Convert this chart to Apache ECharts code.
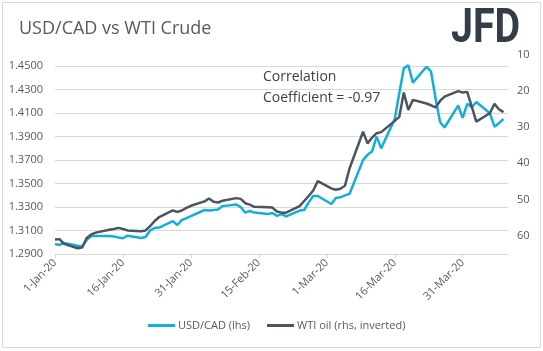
<!DOCTYPE html>
<html>
<head>
<meta charset="utf-8">
<script src="https://cdn.jsdelivr.net/npm/echarts@6/dist/echarts.min.js"></script>
<style>
  html, body { margin: 0; padding: 0; background: #fff; }
  #chart { width: 543px; height: 351px; }
</style>
</head>
<body>
<div id="chart"></div>
<script>
// trading days plotted
const dates = [
  '2020-01-01','2020-01-02','2020-01-03','2020-01-06','2020-01-07','2020-01-08','2020-01-09','2020-01-10',
  '2020-01-13','2020-01-14','2020-01-15','2020-01-16','2020-01-17','2020-01-20','2020-01-21','2020-01-22',
  '2020-01-23','2020-01-24','2020-01-27','2020-01-28','2020-01-29','2020-01-30','2020-01-31','2020-02-03',
  '2020-02-04','2020-02-05','2020-02-06','2020-02-07','2020-02-10','2020-02-11','2020-02-12','2020-02-13',
  '2020-02-14','2020-02-17','2020-02-18','2020-02-19','2020-02-20','2020-02-21','2020-02-24','2020-02-25',
  '2020-02-26','2020-02-27','2020-02-28','2020-03-02','2020-03-03','2020-03-04','2020-03-05','2020-03-06',
  '2020-03-09','2020-03-10','2020-03-11','2020-03-12','2020-03-13','2020-03-16','2020-03-17','2020-03-18',
  '2020-03-19','2020-03-20','2020-03-23','2020-03-24','2020-03-25','2020-03-26','2020-03-27','2020-03-30',
  '2020-03-31','2020-04-01','2020-04-02','2020-04-03','2020-04-06','2020-04-07','2020-04-08','2020-04-09'
];
const usdcad = [
  1.2985, 1.2977, 1.2994, 1.2970, 1.2965, 1.3020, 1.3053, 1.3053, 1.3053, 1.3050,
  1.3040, 1.3034, 1.3056, 1.3036, 1.3045, 1.3100, 1.3122, 1.3125, 1.3180, 1.3147,
  1.3190, 1.3205, 1.3222, 1.3275, 1.3270, 1.3274, 1.3279, 1.3308, 1.3322, 1.3300,
  1.3252, 1.3266, 1.3253, 1.3241, 1.3250, 1.3225, 1.3240, 1.3220, 1.3270, 1.3275,
  1.3340, 1.3394, 1.3394, 1.3326, 1.3378, 1.3383, 1.3400, 1.3412, 1.3700, 1.3745,
  1.3775, 1.3900, 1.3800, 1.4050, 1.4270, 1.4482, 1.4508, 1.4360, 1.4496, 1.4455,
  1.4230, 1.4025, 1.3978, 1.4165, 1.4060, 1.4180, 1.4150, 1.4195, 1.4100, 1.3985,
  1.4015, 1.4050
];
const wti = [
  61.0, 60.9, 62.2, 63.4, 63.2, 60.6, 59.6, 59.1, 58.3, 58.1,
  57.8, 58.1, 58.5, 58.7, 58.5, 57.3, 55.9, 54.8, 53.0, 53.4,
  53.0, 52.3, 51.7, 50.5, 49.7, 50.6, 50.8, 50.3, 49.6, 49.8,
  51.0, 51.4, 52.0, 52.1, 52.2, 53.3, 53.6, 53.6, 51.8, 50.4,
  49.0, 47.5, 44.9, 46.9, 47.3, 47.0, 46.2, 41.5, 31.3, 34.5,
  32.9, 31.7, 31.4, 28.3, 27.2, 20.5, 25.3, 22.5, 23.5, 24.0,
  24.6, 22.8, 21.6, 20.1, 20.5, 20.3, 24.4, 28.5, 26.2, 23.6,
  25.1, 25.9
];
const months = ['Jan','Feb','Mar','Apr','May','Jun','Jul','Aug','Sep','Oct','Nov','Dec'];

const start = Date.UTC(2020, 0, 1);
const dayOf = s => (Date.parse(s + 'T00:00:00Z') - start) / 864e5;
const dayLabel = v => {
  const d = new Date(start + v * 864e5);
  return d.getUTCDate() + '-' + months[d.getUTCMonth()] + '-20';
};

const grey = '#595959';
const gridCol = '#d9d9d9';
const font = 'Open Sans';

var myChart = echarts.init(document.getElementById('chart'));

const option = {
  animation: false,
  textStyle: { fontFamily: font },
  title: {
    text: 'USD/CAD vs WTI Crude',
    left: 14,
    top: 15,
    textStyle: { color: grey, fontSize: 18, fontWeight: 'normal', fontFamily: font }
  },
  grid: { left: 55, right: 35, top: 54.5, bottom: 97, containLabel: false },
  legend: {
    bottom: 15,
    left: 143,
    itemWidth: 27,
    itemHeight: 3,
    itemGap: 17,
    textStyle: { color: grey, fontSize: 11, fontFamily: font, padding: [0, 0, 0, -2] },
    data: [
      { name: 'USD/CAD (lhs)', icon: 'rect' },
      { name: 'WTI oil (rhs, inverted)', icon: 'rect' }
    ]
  },
  xAxis: {
    type: 'value',
    min: 0,
    max: 100,
    interval: 15,
    axisLine: { lineStyle: { color: gridCol } },
    axisTick: { show: true, length: 4, lineStyle: { color: gridCol } },
    splitLine: { show: false },
    axisLabel: {
      rotate: 45,
      color: grey,
      fontSize: 11,
      margin: 7,
      showMaxLabel: false,
      formatter: v => dayLabel(v)
    }
  },
  yAxis: [
    {
      type: 'value',
      min: 1.29,
      max: 1.46,
      interval: 0.02,
      axisLine: { show: false },
      axisTick: { show: false },
      splitLine: { show: true, showMaxLine: false, lineStyle: { color: gridCol } },
      axisLabel: {
        color: grey,
        fontSize: 11,
        margin: 12,
        showMaxLabel: false,
        formatter: v => v.toFixed(4)
      }
    },
    {
      type: 'value',
      inverse: true,
      min: 10,
      max: 65,
      interval: 10,
      axisLine: { show: false },
      axisTick: { show: false },
      splitLine: { show: false },
      axisLabel: { color: grey, fontSize: 11, margin: 9, showMaxLabel: false }
    }
  ],
  graphic: [
    {
      type: 'rect',
      shape: { x: 2.5, y: 2.5, width: 538, height: 345 },
      style: { fill: 'none', stroke: gridCol, lineWidth: 1 },
      silent: true
    },
    {
      type: 'text',
      left: 263,
      top: 67,
      style: {
        text: 'Correlation\nCoefficient = -0.97',
        fill: '#404040',
        font: '14px "Open Sans"',
        lineHeight: 21
      }
    },
    {
      type: 'text',
      x: 451,
      y: 6,
      scaleX: 0.82,
      style: {
        text: 'JFD',
        fill: '#333c47',
        font: 'bold 48px Roboto'
      }
    }
  ],
  series: [
    {
      name: 'USD/CAD (lhs)',
      type: 'line',
      yAxisIndex: 0,
      symbol: 'none',
      lineStyle: { color: '#14aedb', width: 2.5 },
      itemStyle: { color: '#14aedb' },
      data: dates.map((d, i) => [dayOf(d), usdcad[i]])
    },
    {
      name: 'WTI oil (rhs, inverted)',
      type: 'line',
      yAxisIndex: 1,
      symbol: 'none',
      lineStyle: { color: '#4a5560', width: 2.5 },
      itemStyle: { color: '#4a5560' },
      data: dates.map((d, i) => [dayOf(d), wti[i]])
    }
  ]
};

myChart.setOption(option);
</script>
</body>
</html>
